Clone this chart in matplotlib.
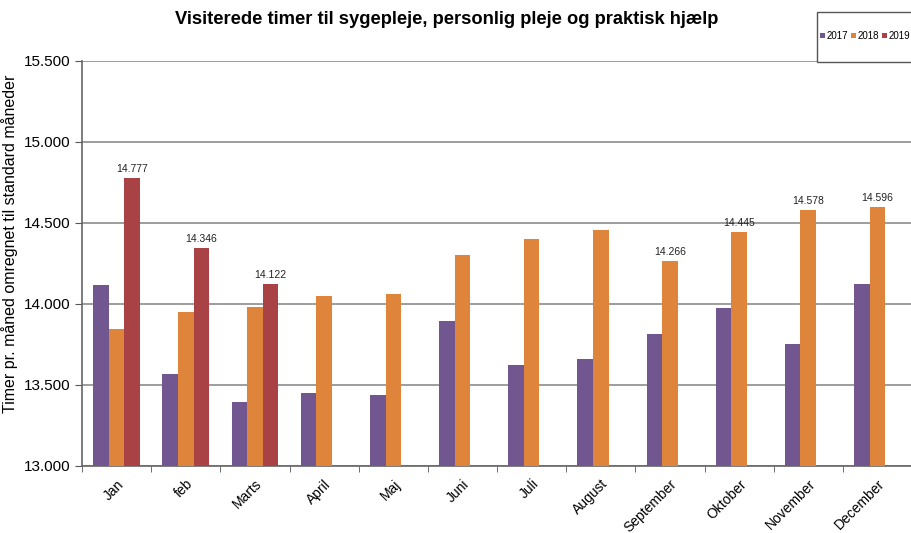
import numpy as np
import matplotlib.pyplot as plt
from matplotlib.patches import Rectangle
from matplotlib.ticker import FuncFormatter

plt.rcParams['font.family'] = ['Liberation Sans', 'DejaVu Sans']

# Data
months = ['Jan', 'feb', 'Marts', 'April', 'Maj', 'Juni', 'Juli', 'August',
          'September', 'Oktober', 'November', 'December']
v2017 = [14115, 13568, 13395, 13449, 13437, 13892, 13625, 13657,
         13812, 13975, 13753, 14120]
v2018 = [13846, 13951, 13980, 14047, 14062, 14300, 14402, 14455,
         14266, 14445, 14578, 14596]
v2019 = [14777, 14346, 14122]
labels_2019 = [0, 1, 2]          # which 2019 bars carry a label
labels_2018 = [8, 9, 10, 11]     # which 2018 bars carry a label

c2017 = '#71568f'
c2018 = '#de853b'
c2019 = '#a84244'

fig = plt.figure(figsize=(9.12, 5.33), dpi=100)
ax = fig.add_axes([0.09, 0.126, 0.91, 0.76])

x = np.arange(len(months))
w = 0.225
ax.bar(x - w, v2017, w, color=c2017, label='2017', zorder=3)
ax.bar(x, v2018, w, color=c2018, label='2018', zorder=3)
ax.bar(x[:len(v2019)] + w, v2019, w, color=c2019, label='2019', zorder=3)

def fmt(v):
    return f'{v:,.0f}'.replace(',', '.')

for i in labels_2019:
    ax.text(i + w, v2019[i] + 25, fmt(v2019[i]), ha='center', va='bottom',
            fontsize=7.5, color='#222222')
for i in labels_2018:
    ax.text(i, v2018[i] + 25, fmt(v2018[i]), ha='center', va='bottom',
            fontsize=7.5, color='#222222')

ax.set_ylim(13000, 15500)
ax.set_yticks(np.arange(13000, 15501, 500))
ax.yaxis.set_major_formatter(FuncFormatter(lambda v, p: fmt(v)))
ax.set_xlim(-0.5, 11.41)
ax.set_xticks(x)
ax.set_xticklabels(months, rotation=45, ha='right', rotation_mode='anchor',
                   fontsize=10)
ax.set_xticks(np.arange(-0.5, 12, 1), minor=True)
ax.tick_params(axis='x', which='major', length=0, pad=8)
ax.tick_params(axis='x', which='minor', length=4, color='#555555')
ax.tick_params(axis='y', length=5, color='#555555', labelsize=11)

ax.grid(axis='y', color='#8c8c8c', linewidth=1.2, zorder=0)
for s in ['top', 'right']:
    ax.spines[s].set_visible(False)
for s in ['left', 'bottom']:
    ax.spines[s].set_color('#666666')
    ax.spines[s].set_linewidth(1.2)

ax.set_ylabel('Timer pr. måned omregnet til standard måneder', fontsize=11.5)
ax.yaxis.set_label_coords(-0.077, 0.548)

fig.text(0.49, 0.964, 'Visiterede timer til sygepleje, personlig pleje og praktisk hjælp',
         ha='center', va='center', fontsize=13.2, fontweight='bold')

# legend box, open at the right edge like in the original
fig.patches.append(Rectangle((0.896, 0.8837), 0.2, 0.094, transform=fig.transFigure,
                             facecolor='white', edgecolor='#555555', linewidth=1.0,
                             zorder=5))
leg = fig.legend(loc='center left', bbox_to_anchor=(0.899, 0.9325), ncol=3,
                 fontsize=7.0, frameon=False, handlelength=0.5, handleheight=0.5,
                 columnspacing=0.35, handletextpad=0.15, borderpad=0,
                 borderaxespad=0)
leg.set_zorder(6)

fig.savefig('out.png', dpi=100)
